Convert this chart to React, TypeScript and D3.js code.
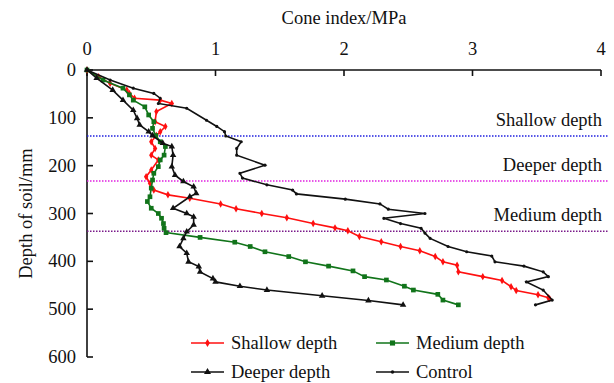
import React from "react";
import * as d3 from "d3";

const xTicks = [0, 1, 2, 3, 4];
const yTicks = [0, 100, 200, 300, 400, 500, 600];

const shallowDepth = [0,14,28,42,49,59,63,70,87,108,118,129,137,150,164,178,188,209,223,237,251,261,268,280,290,300,309,321,330,336,348,359,369,378,390,401,408,422,432,440,453,461,470,476,478];
const shallowCone = [0,0.09,0.18,0.31,0.33,0.37,0.57,0.66,0.54,0.53,0.61,0.57,0.54,0.50,0.53,0.50,0.555,0.50,0.46,0.49,0.52,0.63,0.80,1.04,1.16,1.36,1.555,1.76,1.93,2.03,2.12,2.29,2.44,2.59,2.71,2.77,2.88,2.89,3.08,3.23,3.30,3.34,3.51,3.59,3.60];

const mediumDepth = [0,21,38,52,63,77,94,108,122,137,150,160,178,188,202,216,230,247,265,275,289,300,310,321,331,340,350,360,369,380,390,401,410,420,432,439,452,460,469,481,491];
const mediumCone = [0,0.125,0.28,0.33,0.36,0.45,0.48,0.52,0.51,0.535,0.57,0.61,0.60,0.57,0.555,0.52,0.51,0.50,0.49,0.47,0.50,0.555,0.58,0.595,0.60,0.615,0.88,1.15,1.27,1.385,1.57,1.70,1.88,2.07,2.16,2.33,2.47,2.54,2.73,2.77,2.89];

const deeperDepth = [0,17,42,63,84,101,115,129,137,153,160,178,202,220,233,244,258,265,289,300,307,324,338,352,369,383,401,411,422,436,443,452,460,472,482,491];
const deeperCone = [0,0.075,0.20,0.28,0.36,0.39,0.41,0.48,0.51,0.59,0.66,0.67,0.66,0.685,0.75,0.83,0.85,0.80,0.67,0.776,0.83,0.83,0.776,0.75,0.72,0.776,0.79,0.87,0.88,0.98,1.0,1.19,1.40,1.83,2.19,2.46];

const controlDepth = [0,21,38,49,59,70,80,105,118,129,138,150,164,178,199,216,226,240,251,259,270,280,291,300,310,321,331,341,352,369,380,389,401,410,422,432,443,460,481,491];
const controlCone = [0,0.18,0.36,0.52,0.57,0.555,0.776,0.93,1.01,1.07,1.08,1.20,1.165,1.165,1.385,1.19,1.21,1.40,1.60,1.63,2.01,2.28,2.345,2.63,2.31,2.44,2.60,2.63,2.67,2.81,2.955,3.15,3.175,3.40,3.55,3.59,3.42,3.55,3.62,3.49];

const zoneNames = ["Shallow depth", "Deeper depth", "Medium depth"];
const zoneDepths = [138, 232, 337];
const zoneColors = ["#2020e0", "#e020e0", "#7a1a8a"];

const seriesNames = ["Shallow depth", "Medium depth", "Deeper depth", "Control"];

const FONT = "'Liberation Serif', 'Times New Roman', serif";
const FS = 18.5;

export default function App() {
  const x = d3.scaleLinear().domain([0, 4]).range([87, 601]);
  const y = d3.scaleLinear().domain([0, 600]).range([70, 357]);

  const series = [
    { name: seriesNames[0], d: shallowDepth, c: shallowCone, color: "#ff1010", sym: d3.symbolDiamond, size: 16 },
    { name: seriesNames[1], d: mediumDepth, c: mediumCone, color: "#11741a", sym: d3.symbolSquare, size: 22 },
    { name: seriesNames[2], d: deeperDepth, c: deeperCone, color: "#111111", sym: d3.symbolTriangle, size: 18 },
    { name: seriesNames[3], d: controlDepth, c: controlCone, color: "#111111", sym: d3.symbolCircle, size: 8 },
  ];

  const line = d3.line<[number, number]>().x((p) => x(p[0])).y((p) => y(p[1]));

  const legendPos = [
    { lx: 191, ly: 343 },
    { lx: 376, ly: 343 },
    { lx: 191, ly: 372 },
    { lx: 376, ly: 372 },
  ];

  return (
    <svg width={614} height={383} style={{ position: "absolute", left: 0, top: 0, background: "#fff" }} fontFamily={FONT}>
      <rect x={0} y={0} width={614} height={383} fill="#fff" />
      <text x={344} y={24} textAnchor="middle" fontSize={FS} fill="#111">Cone index/MPa</text>
      {/* top axis */}
      <line x1={x(0)} x2={x(4)} y1={y(0)} y2={y(0)} stroke="#111" strokeWidth={1.6} />
      {xTicks.map((t) => (
        <g key={"xt" + t}>
          <line x1={x(t)} x2={x(t)} y1={y(0)} y2={y(0) + 6} stroke="#111" strokeWidth={1.6} />
          <text x={x(t)} y={55} textAnchor="middle" fontSize={FS} fill="#111">{t}</text>
        </g>
      ))}
      {/* left axis */}
      <line x1={x(0)} x2={x(0)} y1={y(0)} y2={y(600)} stroke="#111" strokeWidth={1.6} />
      {yTicks.map((t) => (
        <g key={"yt" + t}>
          <line x1={x(0)} x2={x(0) + 6} y1={y(t)} y2={y(t)} stroke="#111" strokeWidth={1.6} />
          <text x={76} y={y(t) + 6} textAnchor="end" fontSize={FS} fill="#111">{t}</text>
        </g>
      ))}
      <text transform={`translate(32,${y(300)}) rotate(-90)`} textAnchor="middle" fontSize={FS} fill="#111">Depth of soil/mm</text>

      {/* zone lines */}
      {zoneDepths.map((dv, i) => (
        <g key={"z" + i}>
          <line x1={x(0)} x2={609} y1={y(dv)} y2={y(dv)} stroke={zoneColors[i]} strokeWidth={1.6} strokeDasharray="1.5,1.5" />
          <text x={602} y={y(dv) - 10} textAnchor="end" fontSize={FS} fill="#111">{zoneNames[i]}</text>
        </g>
      ))}

      {/* series */}
      {series.map((s, si) => {
        const pts: [number, number][] = s.c.map((c, i) => [c, s.d[i]]);
        const sym = d3.symbol().type(s.sym).size(s.size)();
        return (
          <g key={"s" + si}>
            <path d={line(pts) || ""} fill="none" stroke={s.color} strokeWidth={1.6} />
            {pts.map((p, i) => (
              <path key={i} d={sym || ""} transform={`translate(${x(p[0])},${y(p[1])})`} fill={s.color} />
            ))}
          </g>
        );
      })}

      {/* legend */}
      {series.map((s, si) => {
        const { lx, ly } = legendPos[si];
        const sym = d3.symbol().type(s.sym).size(s.size * 1.2)();
        return (
          <g key={"l" + si}>
            <line x1={lx} x2={lx + 33} y1={ly} y2={ly} stroke={s.color} strokeWidth={1.6} />
            <path d={sym || ""} transform={`translate(${lx + 16.5},${ly})`} fill={s.color} />
            <text x={lx + 40} y={ly + 6} fontSize={FS} fill="#111">{s.name}</text>
          </g>
        );
      })}
    </svg>
  );
}
